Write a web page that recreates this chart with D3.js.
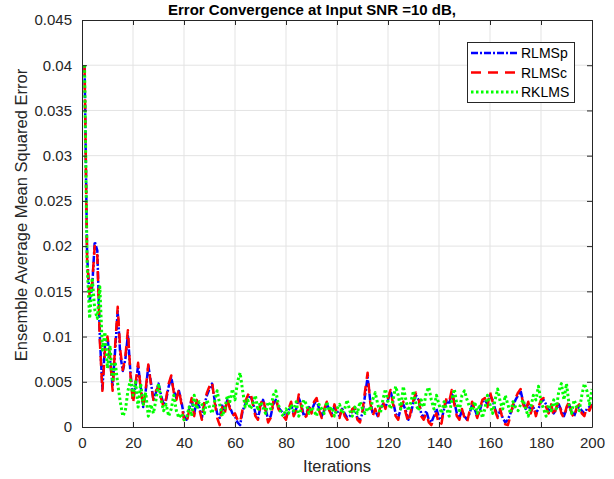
<!DOCTYPE html>
<html><head><meta charset="utf-8">
<script src="https://cdn.jsdelivr.net/npm/d3@7"></script>
<style>body{margin:0;background:#fff;}svg{display:block;font-family:"Liberation Sans",Arial,sans-serif;}</style>
</head><body>
<svg id="chart" width="614" height="479"></svg>
<script>
const titleText = "Error Convergence at Input SNR =10 dB,";
const xLabel = "Iterations";
const yLabel = "Ensemble Average Mean Squared Error";
const xTicks = [0,20,40,60,80,100,120,140,160,180,200];
const yTicks = [0,0.005,0.01,0.015,0.02,0.025,0.03,0.035,0.04,0.045];
const yTickLabels = ["0","0.005","0.01","0.015","0.02","0.025","0.03","0.035","0.04","0.045"];
const seriesNames = ["RLMSp","RLMSc","RKLMS"];

const rlmsp = [
0.0400,0.0190,0.0140,0.0155,0.0205,0.0195,0.0100,0.0042,0.0090,0.0098,
0.0075,0.0045,0.0085,0.0128,0.0080,0.0062,0.0075,0.0102,0.0060,0.0030,
0.0045,0.0068,0.0045,0.0022,0.0040,0.0068,0.0050,0.0030,0.0038,0.0048,
0.0035,0.0025,0.0030,0.0045,0.0055,0.0040,0.0032,0.0040,0.0028,0.0012,
0.0008,0.0020,0.0030,0.0015,0.0028,0.0022,0.0010,0.0025,0.0035,0.0042,
0.0048,0.0030,0.0015,0.0010,0.0025,0.0018,0.0030,0.0022,0.0015,0.0012,
0.0005,0.0002,0.0018,0.0025,0.0030,0.0035,0.0028,0.0015,0.0010,0.0022,
0.0030,0.0020,0.0008,0.0012,0.0025,0.0030,0.0022,0.0018,0.0015,0.0010,
0.0018,0.0025,0.0015,0.0020,0.0032,0.0025,0.0012,0.0015,0.0022,0.0018,
0.0025,0.0030,0.0020,0.0012,0.0018,0.0025,0.0020,0.0015,0.0022,0.0018,
0.0012,0.0020,0.0015,0.0010,0.0012,0.0018,0.0020,0.0010,0.0008,0.0015,
0.0035,0.0055,0.0030,0.0015,0.0018,0.0012,0.0020,0.0025,0.0022,0.0030,
0.0040,0.0028,0.0015,0.0010,0.0020,0.0025,0.0018,0.0008,0.0015,0.0028,
0.0035,0.0030,0.0015,0.0010,0.0018,0.0008,0.0005,0.0012,0.0020,0.0010,
0.0008,0.0020,0.0030,0.0025,0.0038,0.0028,0.0015,0.0010,0.0018,0.0012,
0.0008,0.0015,0.0025,0.0020,0.0012,0.0018,0.0028,0.0030,0.0025,0.0035,
0.0030,0.0020,0.0012,0.0018,0.0010,0.0005,0.0008,0.0015,0.0022,0.0030,
0.0035,0.0040,0.0028,0.0020,0.0025,0.0018,0.0022,0.0015,0.0020,0.0028,
0.0030,0.0025,0.0018,0.0022,0.0015,0.0020,0.0025,0.0018,0.0012,0.0020,
0.0025,0.0018,0.0012,0.0020,0.0022,0.0018,0.0015,0.0020,0.0022,0.0025];

const rlmsc = [
0.0400,0.0185,0.0145,0.0160,0.0200,0.0190,0.0095,0.0040,0.0085,0.0100,
0.0078,0.0040,0.0090,0.0133,0.0085,0.0063,0.0078,0.0107,0.0058,0.0026,
0.0048,0.0071,0.0042,0.0022,0.0042,0.0069,0.0048,0.0030,0.0040,0.0045,
0.0032,0.0022,0.0032,0.0048,0.0057,0.0038,0.0030,0.0042,0.0025,0.0008,
0.0004,0.0018,0.0032,0.0012,0.0030,0.0020,0.0008,0.0028,0.0038,0.0045,
0.0050,0.0028,0.0010,0.0002,0.0022,0.0015,0.0032,0.0020,0.0012,0.0015,
0.0008,0.0005,0.0020,0.0028,0.0035,0.0039,0.0025,0.0012,0.0008,0.0025,
0.0032,0.0018,0.0005,0.0010,0.0028,0.0032,0.0020,0.0015,0.0012,0.0008,
0.0020,0.0028,0.0012,0.0018,0.0036,0.0022,0.0010,0.0012,0.0025,0.0015,
0.0028,0.0032,0.0018,0.0010,0.0020,0.0028,0.0018,0.0012,0.0025,0.0015,
0.0010,0.0022,0.0012,0.0008,0.0010,0.0020,0.0022,0.0008,0.0005,0.0018,
0.0040,0.0060,0.0028,0.0012,0.0020,0.0010,0.0022,0.0028,0.0020,0.0032,
0.0041,0.0025,0.0012,0.0008,0.0022,0.0028,0.0015,0.0005,0.0018,0.0030,
0.0038,0.0032,0.0012,0.0008,0.0015,0.0005,0.0002,0.0010,0.0015,0.0002,
0.0004,0.0022,0.0032,0.0028,0.0041,0.0025,0.0012,0.0008,0.0020,0.0010,
0.0005,0.0018,0.0028,0.0018,0.0010,0.0020,0.0030,0.0032,0.0022,0.0039,
0.0028,0.0018,0.0010,0.0020,0.0008,0.0003,0.0002,0.0012,0.0025,0.0032,
0.0038,0.0042,0.0025,0.0018,0.0028,0.0015,0.0025,0.0012,0.0022,0.0030,
0.0032,0.0022,0.0015,0.0025,0.0012,0.0022,0.0028,0.0015,0.0010,0.0022,
0.0028,0.0015,0.0010,0.0022,0.0025,0.0015,0.0012,0.0022,0.0018,0.0025];

const rklms = [
0.0400,0.0180,0.0120,0.0165,0.0130,0.0120,0.0155,0.0085,0.0105,0.0065,
0.0090,0.0050,0.0072,0.0048,0.0028,0.0012,0.0018,0.0040,0.0052,0.0035,
0.0050,0.0022,0.0048,0.0025,0.0038,0.0012,0.0025,0.0015,0.0030,0.0048,
0.0030,0.0018,0.0025,0.0012,0.0020,0.0035,0.0018,0.0010,0.0015,0.0008,
0.0010,0.0022,0.0012,0.0035,0.0020,0.0028,0.0025,0.0015,0.0030,0.0022,
0.0015,0.0028,0.0040,0.0025,0.0012,0.0020,0.0035,0.0028,0.0042,0.0030,
0.0050,0.0060,0.0040,0.0022,0.0030,0.0020,0.0025,0.0035,0.0018,0.0028,
0.0022,0.0015,0.0028,0.0020,0.0035,0.0040,0.0025,0.0015,0.0012,0.0020,
0.0015,0.0025,0.0018,0.0028,0.0012,0.0020,0.0030,0.0025,0.0015,0.0022,
0.0018,0.0012,0.0025,0.0020,0.0015,0.0028,0.0018,0.0022,0.0012,0.0020,
0.0025,0.0015,0.0020,0.0030,0.0018,0.0012,0.0022,0.0015,0.0028,0.0020,
0.0015,0.0022,0.0018,0.0030,0.0038,0.0025,0.0015,0.0030,0.0042,0.0028,
0.0020,0.0030,0.0045,0.0035,0.0020,0.0045,0.0030,0.0018,0.0028,0.0040,
0.0025,0.0018,0.0030,0.0022,0.0038,0.0044,0.0030,0.0020,0.0035,0.0025,
0.0015,0.0028,0.0020,0.0012,0.0030,0.0042,0.0025,0.0018,0.0035,0.0040,
0.0030,0.0022,0.0018,0.0028,0.0015,0.0025,0.0010,0.0020,0.0035,0.0025,
0.0015,0.0030,0.0042,0.0028,0.0020,0.0035,0.0025,0.0015,0.0028,0.0022,
0.0018,0.0025,0.0030,0.0020,0.0012,0.0022,0.0035,0.0030,0.0045,0.0028,
0.0020,0.0012,0.0025,0.0018,0.0030,0.0020,0.0040,0.0048,0.0030,0.0048,
0.0025,0.0015,0.0030,0.0022,0.0018,0.0035,0.0048,0.0040,0.0025,0.0042];

const svg = d3.select("#chart");
const m = {left:82, right:592, top:20, bottom:427};
const x = d3.scaleLinear().domain([0,200]).range([m.left, m.right]);
const y = d3.scaleLinear().domain([0,0.045]).range([m.bottom, m.top]);
const axisColor = "#262626";

// grid
svg.append("g").selectAll("line").data(xTicks.slice(1,-1)).join("line")
  .attr("x1",d=>x(d)).attr("x2",d=>x(d)).attr("y1",m.top).attr("y2",m.bottom)
  .attr("stroke","#e3e3e3").attr("stroke-width",1);
svg.append("g").selectAll("line").data(yTicks.slice(1,-1)).join("line")
  .attr("y1",d=>y(d)).attr("y2",d=>y(d)).attr("x1",m.left).attr("x2",m.right)
  .attr("stroke","#e3e3e3").attr("stroke-width",1);

// series
const series = [
  {name:seriesNames[0], data:rlmsp, color:"#0000ff", dash:"7,2,2,2", width:2.5},
  {name:seriesNames[1], data:rlmsc, color:"#ff0000", dash:"10,7", width:2.5},
  {name:seriesNames[2], data:rklms, color:"#00ff00", dash:"2.5,2.5", width:3}
];
const line = d3.line().x((d,i)=>x(i+1)).y(d=>y(d));
const clip = svg.append("clipPath").attr("id","clip").append("rect")
  .attr("x",m.left).attr("y",m.top).attr("width",m.right-m.left).attr("height",m.bottom-m.top+2);
const plotG = svg.append("g").attr("clip-path","url(#clip)");
series.forEach(s=>{
  plotG.append("path").datum(s.data).attr("d",line).attr("fill","none")
    .attr("stroke",s.color).attr("stroke-width",s.width).attr("stroke-dasharray",s.dash)
    .attr("stroke-linejoin","round");
});

// axes (MATLAB-like box, inward ticks)
const xAxis = d3.axisBottom(x).tickValues(xTicks).tickSizeInner(-5).tickSizeOuter(0).tickPadding(10).tickFormat(d3.format("d"));
const xAxisTop = d3.axisTop(x).tickValues(xTicks).tickSizeInner(-5).tickSizeOuter(0).tickFormat("");
const yAxis = d3.axisLeft(y).tickValues(yTicks).tickSizeInner(-5).tickSizeOuter(0).tickPadding(10).tickFormat((d,i)=>yTickLabels[i]);
const yAxisRight = d3.axisRight(y).tickValues(yTicks).tickSizeInner(-5).tickSizeOuter(0).tickFormat("");
function style(g){
  g.selectAll("path").attr("stroke",axisColor).attr("stroke-width",1);
  g.selectAll("line").attr("stroke",axisColor).attr("stroke-width",1);
  g.selectAll("text").attr("fill",axisColor).style("font-size","15px").style("font-family","'Liberation Sans',Arial,sans-serif");
}
svg.append("g").attr("transform",`translate(0,${m.bottom})`).call(xAxis).call(style);
svg.append("g").attr("transform",`translate(0,${m.top})`).call(xAxisTop).call(style);
svg.append("g").attr("transform",`translate(${m.left},0)`).call(yAxis).call(style);
svg.append("g").attr("transform",`translate(${m.right},0)`).call(yAxisRight).call(style);

// title and labels
svg.append("text").attr("x",312).attr("y",15).attr("text-anchor","middle")
  .style("font-size","15px").style("font-weight","bold").attr("fill","#000").text(titleText);
svg.append("text").attr("x",337).attr("y",472).attr("text-anchor","middle")
  .style("font-size","16.5px").attr("fill",axisColor).text(xLabel);
svg.append("text").attr("transform","translate(27,215) rotate(-90)").attr("text-anchor","middle")
  .style("font-size","16.5px").attr("fill",axisColor).text(yLabel);

// legend
const lg = svg.append("g");
lg.append("rect").attr("x",467.5).attr("y",42.5).attr("width",107).attr("height",60)
  .attr("fill","#fff").attr("stroke","#262626").attr("stroke-width",1);
series.forEach((s,i)=>{
  const yy = 53 + i*19.5;
  lg.append("line").attr("x1",471).attr("x2",518).attr("y1",yy).attr("y2",yy)
    .attr("stroke",s.color).attr("stroke-width",s.width).attr("stroke-dasharray",s.dash);
  lg.append("text").attr("x",521).attr("y",yy+5).style("font-size","14px").attr("fill","#000").text(s.name);
});
</script>
</body></html>
